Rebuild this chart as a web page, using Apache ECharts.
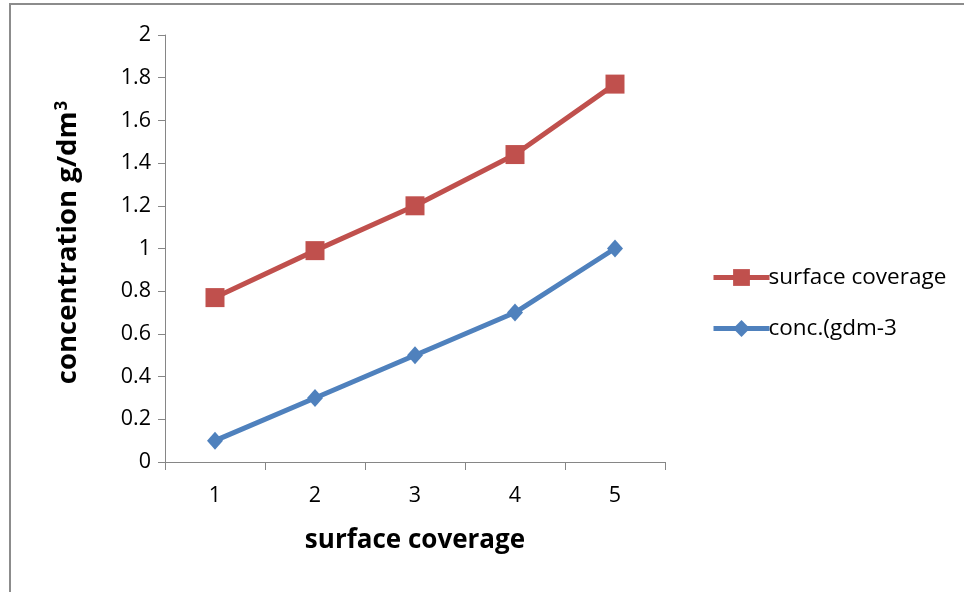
<!DOCTYPE html>
<html>
<head>
<meta charset="utf-8">
<script src="https://cdn.jsdelivr.net/npm/echarts@6/dist/echarts.min.js"></script>
<style>
  html, body { margin: 0; padding: 0; background: #fff; }
  #frame { position: absolute; left: 9px; top: 3px; width: 960px; height: 600px;
           border-left: 2px solid #8c8c8c; border-top: 2px solid #8c8c8c; box-sizing: border-box; }
  #chart { position: absolute; left: 0; top: 0; width: 964px; height: 592px; }
</style>
</head>
<body>
<div id="frame"></div>
<div id="chart"></div>
<script>
// Categories along the x axis
const categories = ['1', '2', '3', '4', '5'];
// Series values
const surfaceCoverage = [0.77, 0.99, 1.2, 1.44, 1.77];
const concentration = [0.1, 0.3, 0.5, 0.7, 1.0];
// Axis names
const xAxisName = 'surface coverage';
const yAxisName = 'concentration g/dm';

const FONT = 'Open Sans';
const chart = echarts.init(document.getElementById('chart'), null, { renderer: 'canvas' });

chart.setOption({
  backgroundColor: 'transparent',
  animation: false,
  grid: { left: 165, right: 299, top: 35, bottom: 130, containLabel: false },
  legend: {
    orient: 'vertical',
    left: 706,
    top: 261,
    itemWidth: 56,
    itemHeight: 21,
    itemGap: 28,
    lineStyle: { width: 5 },
    textStyle: { fontFamily: FONT, fontSize: 22.5, color: '#000', padding: [0, 0, 0, -6] },
    data: ['surface coverage', 'conc.(gdm-3']
  },
  xAxis: {
    type: 'category',
    data: categories,
    boundaryGap: true,
    name: xAxisName,
    nameLocation: 'middle',
    nameGap: 66,
    nameTextStyle: { fontFamily: FONT, fontSize: 26, fontWeight: 'bold', color: '#000' },
    axisLine: { lineStyle: { color: '#868686', width: 1 } },
    axisTick: { show: true, length: 8, alignWithLabel: false, lineStyle: { color: '#868686' } },
    axisLabel: { fontFamily: FONT, fontSize: 21.5, color: '#000', margin: 23 },
    splitLine: { show: false }
  },
  yAxis: {
    type: 'value',
    min: 0,
    max: 2,
    interval: 0.2,
    name: '{t|' + yAxisName + '}{s|3}',
    nameLocation: 'middle',
    nameGap: 83,
    nameRotate: 90,
    nameTextStyle: {
      padding: [0, 0, 0, 12],
      rich: {
        t: { fontFamily: FONT, fontSize: 27.5, fontWeight: 'bold', color: '#000' },
        s: { fontFamily: FONT, fontSize: 17, fontWeight: 'bold', color: '#000', verticalAlign: 'top', padding: [0, 0, 11, 1] }
      }
    },
    axisLine: { show: true, lineStyle: { color: '#868686', width: 1 } },
    axisTick: { show: true, length: 7, lineStyle: { color: '#868686' } },
    axisLabel: {
      fontFamily: FONT, fontSize: 21.5, color: '#000', margin: 14,
      formatter: v => String(+v.toFixed(1))
    },
    splitLine: { show: false }
  },
  series: [
    {
      name: 'surface coverage',
      type: 'line',
      data: surfaceCoverage,
      symbol: 'rect',
      symbolSize: 19,
      lineStyle: { color: '#C0504D', width: 5 },
      itemStyle: { color: '#C0504D' }
    },
    {
      name: 'conc.(gdm-3',
      type: 'line',
      data: concentration,
      symbol: 'diamond',
      symbolSize: [16, 18],
      lineStyle: { color: '#4F81BD', width: 5 },
      itemStyle: { color: '#4F81BD' }
    }
  ]
});
</script>
</body>
</html>
